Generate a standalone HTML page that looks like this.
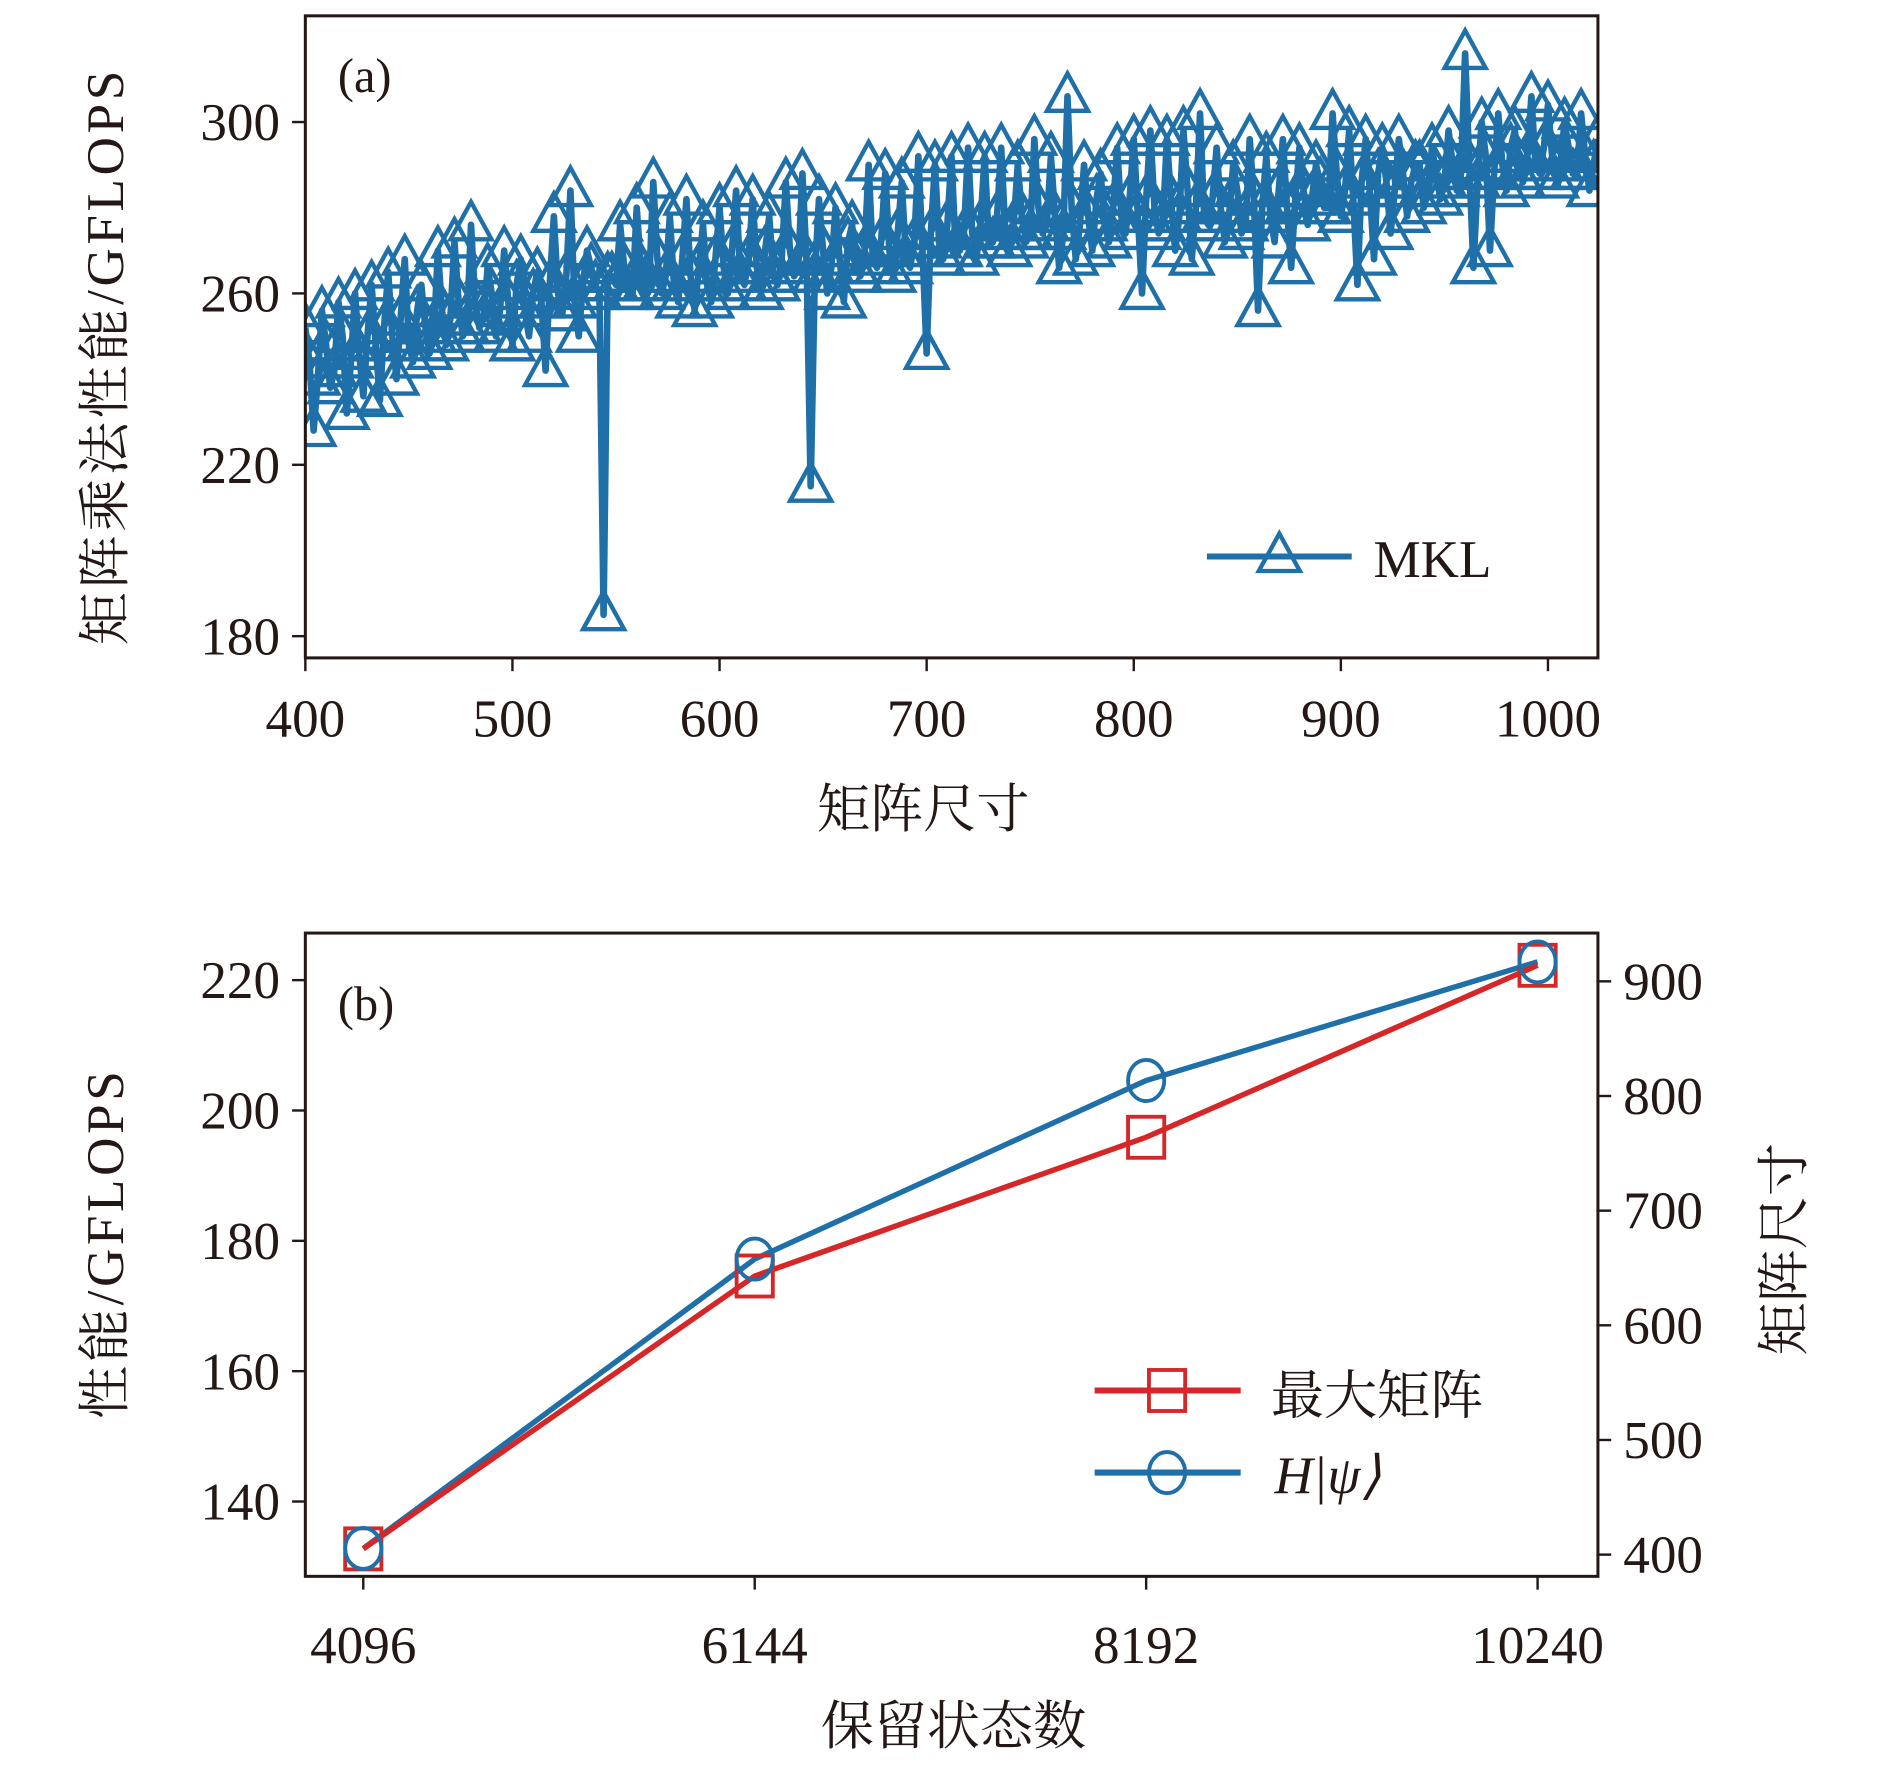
<!DOCTYPE html>
<html><head><meta charset="utf-8"><style>
html,body{margin:0;padding:0;background:#fff}
svg{display:block}
text{font-family:"Liberation Serif","Noto Serif CJK SC",serif;fill:#231815}
</style></head><body>
<svg id="fig" width="1890" height="1772" viewBox="0 0 1566 1468" xmlns="http://www.w3.org/2000/svg">
<defs>
<clipPath id="clipA"><rect x="253" y="13" width="1071" height="532"/></clipPath>
<clipPath id="clipB"><rect x="253" y="773" width="1071" height="533"/></clipPath>
</defs>
<g id="panelA"></g>
<g id="panelB"></g>
</svg>
<script>
// Panel (a) data: MKL GFLOPS, sizes 400,404,... (even-step) and 402,406,... (odd-step)
const mklValuesA = [
252,228,256,238,258,232,260,236,262,235,
265,240,268,244,262,246,270,248,272,250,
276,252,266,250,270,248,268,250,265,242,
278,255,284,250,270,262,185,264,276,260,
280,262,286,260,278,258,282,256,276,258,
280,260,284,262,282,260,278,262,286,264,
288,215,282,260,280,258,276,264,290,266,
288,264,286,266,292,246,290,268,292,270,
294,268,292,272,294,270,290,272,296,274,
292,266,306,268,290,270,288,272,294,274,
296,260,298,274,296,270,298,268,302,276,
294,272,290,274,296,256,292,272,296,266,
294,276,290,280,302,278,298,262,296,268,
294,274,296,278,290,280,294,282,298,284,
316,266,300,270,302,284,298,286,306,288,
304,286,300,288,302,284,296];
const mklValuesB = [
244,240,248,242,250,244,246,250,248,252,
250,254,248,256,252,250,256,254,258,252,
258,254,260,256,258,262,256,260,258,262,
260,264,258,262,266,260,264,262,266,260,
266,262,268,264,262,268,264,266,262,268,
266,270,264,268,266,270,264,268,270,266,
268,264,270,266,268,272,266,270,268,272,
270,274,268,272,270,274,272,276,270,274,
274,276,272,278,274,276,278,274,280,276,
278,274,280,276,278,282,276,280,278,282,
278,282,280,276,282,278,284,280,278,282,
280,278,284,276,282,280,278,284,280,282,
284,282,286,280,288,284,282,286,284,288,
286,284,288,286,290,284,288,286,290,288,
290,286,292,288,290,294,288,292,290,294,
292,290,294,288,292,290];
const mklSizes = [], mklValues = [];
for (let i=0;i<mklValuesA.length;i++){
  mklSizes.push(400+4*i); mklValues.push(mklValuesA[i]);
  if (i<mklValuesB.length){ mklSizes.push(402+4*i); mklValues.push(mklValuesB[i]); }
}
const aXTicks = [400,500,600,700,800,900,1000];
const aYTicks = [180,220,260,300];

// Panel (b) data
const bStates = [4096,6144,8192,10240];
const bStateLabels = ["4096","6144","8192","10240"];
const maxMatrix = [405,643,764,914];
const hpsiPerf = [132.8,177.2,204.6,222.8];
const bLeftTicks = [140,160,180,200,220];
const bRightTicks = [400,500,600,700,800,900];

const NS="http://www.w3.org/2000/svg";
const BLUE="#1f6fa8", RED="#d62728", INK="#231815";
function mk(tag,attrs,parent){const e=document.createElementNS(NS,tag);for(const k in attrs)e.setAttribute(k,attrs[k]);parent.appendChild(e);return e;}

const ax = v => 253 + (v-400)*1.716;
const ay = v => 527 - (v-180)*3.55;
const bx = v => 301 + (v-4096)*(973/6144);
const byL = v => 1244 - (v-140)*5.4;
const byR = v => 1288 - (v-400)*0.95;

function tri(cx,cy,g){
  return mk('path',{d:`M${cx},${cy-19} L${cx+17},${cy+12} L${cx-17},${cy+12} Z`,fill:'none',stroke:BLUE,'stroke-width':3.6},g);
}

// ---------- Panel A ----------
const A=document.getElementById('panelA');
const aData=mk('g',{'clip-path':'url(#clipA)'},A);


const aLine=mk('polyline',{points:mklSizes.map((s,i)=>ax(s)+','+ay(mklValues[i])).join(' '),fill:'none',stroke:BLUE,'stroke-width':5.5,'stroke-linejoin':'round'},aData);


mklSizes.forEach((s,i)=>{
  const t=tri(ax(s),ay(mklValues[i]),aData);
  
  
});
const aFrame=mk('rect',{x:253,y:13,width:1071,height:532,fill:'none',stroke:INK,'stroke-width':2.5},A);


aXTicks.forEach(v=>{
  const l=mk('line',{x1:ax(v),x2:ax(v),y1:545,y2:556,stroke:INK,'stroke-width':2},A);
  
  
  const t=mk('text',{x:ax(v),y:610,'text-anchor':'middle','font-size':44},A);
  t.textContent=v;
  
  
});
aYTicks.forEach(v=>{
  const l=mk('line',{x1:242,x2:253,y1:ay(v),y2:ay(v),stroke:INK,'stroke-width':2},A);
  
  
  const t=mk('text',{x:232,y:ay(v)+15,'text-anchor':'end','font-size':44},A);
  t.textContent=v;
  
  
});
let e;
e=mk('text',{x:280,y:76,'font-size':40},A);e.textContent='(a)';


e=mk('text',{x:0,y:0,'font-size':44,'text-anchor':'middle','letter-spacing':3,transform:'translate(102,295) rotate(-90)'},A);e.textContent='矩阵乘法性能/GFLOPS';


e=mk('text',{x:765,y:685,'font-size':44,'text-anchor':'middle'},A);e.textContent='矩阵尺寸';


const legA=mk('g',{},A);


mk('line',{x1:1000,x2:1120,y1:461,y2:461,stroke:BLUE,'stroke-width':5},legA);
tri(1060,461,legA);
e=mk('text',{x:1138,y:478,'font-size':44},legA);e.textContent='MKL';

// ---------- Panel B ----------
const B=document.getElementById('panelB');
const bData=mk('g',{'clip-path':'url(#clipB)'},B);
const hLine=mk('polyline',{points:bStates.map((s,i)=>bx(s)+','+byL(hpsiPerf[i])).join(' '),fill:'none',stroke:BLUE,'stroke-width':4.5},bData);


const rLine=mk('polyline',{points:bStates.map((s,i)=>bx(s)+','+byR(maxMatrix[i])).join(' '),fill:'none',stroke:RED,'stroke-width':4.5},bData);


bStates.forEach((s,i)=>{
  const sq=mk('rect',{x:bx(s)-15,y:byR(maxMatrix[i])-17,width:30,height:34,fill:'none',stroke:RED,'stroke-width':3.2},bData);
  
  
  const c=mk('ellipse',{cx:bx(s),cy:byL(hpsiPerf[i]),rx:15,ry:17,fill:'none',stroke:BLUE,'stroke-width':3.2},bData);
  
  
});
const bFrame=mk('rect',{x:253,y:773,width:1071,height:533,fill:'none',stroke:INK,'stroke-width':2.5},B);


bStates.forEach((s,i)=>{
  const l=mk('line',{x1:bx(s),x2:bx(s),y1:1306,y2:1317,stroke:INK,'stroke-width':2},B);
  
  
  const t=mk('text',{x:bx(s),y:1378,'text-anchor':'middle','font-size':44},B);
  t.textContent=bStateLabels[i];
  
  
});
bLeftTicks.forEach(v=>{
  const l=mk('line',{x1:242,x2:253,y1:byL(v),y2:byL(v),stroke:INK,'stroke-width':2},B);
  
  
  const t=mk('text',{x:232,y:byL(v)+15,'text-anchor':'end','font-size':44},B);
  t.textContent=v;
  
  
});
bRightTicks.forEach(v=>{
  const l=mk('line',{x1:1324,x2:1335,y1:byR(v),y2:byR(v),stroke:INK,'stroke-width':2},B);
  
  
  const t=mk('text',{x:1345,y:byR(v)+15,'text-anchor':'start','font-size':44},B);
  t.textContent=v;
  
  
});
e=mk('text',{x:280,y:845,'font-size':40},B);e.textContent='(b)';


e=mk('text',{x:0,y:0,'font-size':44,'text-anchor':'middle','letter-spacing':3,transform:'translate(102,1030) rotate(-90)'},B);e.textContent='性能/GFLOPS';


e=mk('text',{x:0,y:0,'font-size':44,'text-anchor':'middle',transform:'translate(1493,1035) rotate(-90)'},B);e.textContent='矩阵尺寸';


e=mk('text',{x:790,y:1445,'font-size':44,'text-anchor':'middle'},B);e.textContent='保留状态数';


const legR=mk('g',{},B);


mk('line',{x1:907,x2:1028,y1:1152,y2:1152,stroke:RED,'stroke-width':5},legR);
mk('rect',{x:952,y:1135,width:30,height:34,fill:'none',stroke:RED,'stroke-width':3.2},legR);
e=mk('text',{x:1053,y:1171,'font-size':44},legR);e.textContent='最大矩阵';
const legH=mk('g',{},B);


mk('line',{x1:907,x2:1028,y1:1220,y2:1220,stroke:BLUE,'stroke-width':5},legH);
mk('ellipse',{cx:967,cy:1220,rx:15,ry:17,fill:'none',stroke:BLUE,'stroke-width':3.2},legH);
e=mk('text',{x:1056,y:1237,'font-size':44,'font-style':'italic'},legH);e.textContent='H|ψ⟩';
</script>
</body></html>
